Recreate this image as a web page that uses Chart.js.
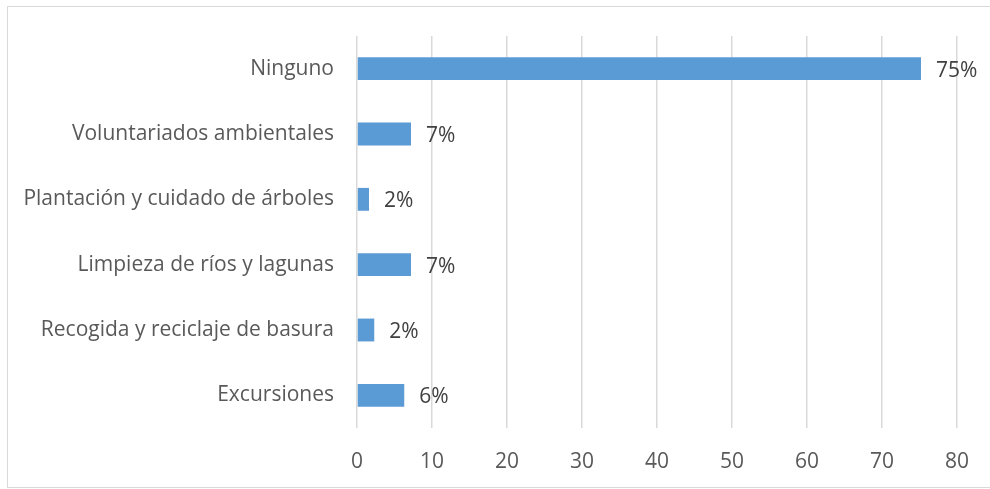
<!DOCTYPE html>
<html>
<head>
<meta charset="utf-8">
<script src="https://cdn.jsdelivr.net/npm/chart.js@4/dist/chart.umd.min.js"></script>
<style>
    html, body { margin: 0; padding: 0; background: #fff; overflow: hidden; }
    #wrap { position: relative; width: 990px; height: 489px; overflow: hidden; }
    #frame {
        position: absolute; left: 7px; top: 6px; width: 1200px; height: 482px;
        border: 1.5px solid #d9d9d9; box-sizing: border-box;
    }
    canvas { position: absolute; left: 0; top: 0; }
</style>
</head>
<body>
<div id="wrap">
    <div id="frame"></div>
    <canvas id="chart" width="990" height="489"></canvas>
</div>
<script>
const categories = [
    "Ninguno",
    "Voluntariados ambientales",
    "Plantación y cuidado de árboles",
    "Limpieza de ríos y lagunas",
    "Recogida y reciclaje de basura",
    "Excursiones",
];
const values = [75.2, 7.2, 1.6, 7.2, 2.3, 6.3];
const valueLabels = ["75%", "7%", "2%", "7%", "2%", "6%"];
const xTicks = [0, 10, 20, 30, 40, 50, 60, 70, 80];

const FONT = "'Open Sans', 'Liberation Sans', sans-serif";

// Draw the percentage text next to each bar end
const barLabels = {
    id: "barLabels",
    afterDatasetsDraw(chart) {
        const ctx = chart.ctx;
        const meta = chart.getDatasetMeta(0);
        ctx.save();
        ctx.font = "21px " + FONT;
        ctx.fillStyle = "#404040";
        ctx.textAlign = "left";
        ctx.textBaseline = "middle";
        meta.data.forEach((bar, i) => {
            ctx.fillText(valueLabels[i], bar.x + 15, bar.y + 2);
        });
        ctx.restore();
    },
};

const ctx = document.getElementById("chart").getContext("2d");
new Chart(ctx, {
    type: "bar",
    data: {
        labels: categories,
        datasets: [{
            data: values,
            backgroundColor: "#5b9bd5",
            borderWidth: 0,
            categoryPercentage: 1,
            barPercentage: 0.35,
        }],
    },
    options: {
        indexAxis: "y",
        responsive: false,
        animation: false,
        layout: { padding: { left: 0, top: 36, right: 32, bottom: 0 } },
        plugins: {
            legend: { display: false },
            tooltip: { enabled: false },
        },
        scales: {
            x: {
                min: 0,
                max: 80,
                afterBuildTicks(axis) {
                    axis.ticks = xTicks.map((v) => ({ value: v }));
                },
                afterFit(axis) { axis.height = 61; },
                grid: { color: "#d9d9d9", lineWidth: 1.5, drawTicks: false },
                border: { display: false },
                ticks: {
                    padding: 21,
                    color: "#595959",
                    font: { family: FONT, size: 21 },
                },
            },
            y: {
                afterFit(axis) { axis.width = 357; },
                grid: { display: false },
                border: { display: false },
                ticks: {
                    padding: 15,
                    color: "#595959",
                    font: { family: FONT, size: 21 },
                },
            },
        },
    },
    plugins: [barLabels],
});
</script>
</body>
</html>
